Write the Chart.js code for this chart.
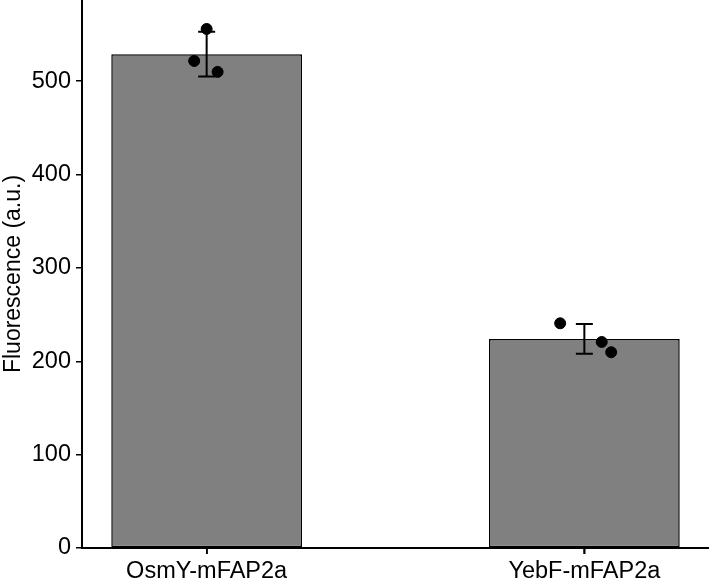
<!DOCTYPE html>
<html>
<head>
<meta charset="utf-8">
<script src="https://cdn.jsdelivr.net/npm/chart.js@4.4.1/dist/chart.umd.min.js"></script>
<style>
  html, body { margin: 0; padding: 0; background: #fff; }
  #wrap { width: 709px; height: 581px; }
</style>
</head>
<body>
<div id="wrap"><canvas id="chart" width="709" height="581"></canvas></div>
<script>
// ---- data ----
const groups = ['OsmY-mFAP2a', 'YebF-mFAP2a'];
const means = [529, 224];
const sds = [24, 16];
// replicate points (x jitter in category units, y values)
const osmyJitter = [-0.033, 0, 0.029];
const osmyValues = [521.7, 556, 510];
const yebfJitter = [-0.064, 0.046, 0.071];
const yebfValues = [240.7, 220.7, 209.7];
const yTicks = [0, 100, 200, 300, 400, 500];

const barData = groups.map((g, i) => ({ x: i + 1, y: means[i] }));
const pointData = [];
osmyValues.forEach((v, i) => pointData.push({ x: 1 + osmyJitter[i], y: v }));
yebfValues.forEach((v, i) => pointData.push({ x: 2 + yebfJitter[i], y: v }));

// error bars drawn through the chart's own scales
const errorBars = {
    id: 'errorBars',
    afterDatasetsDraw(chart){
        const ctx = chart.ctx;
        const xs = chart.scales.x, ys = chart.scales.y;
        ctx.save();
        ctx.strokeStyle = '#000';
        ctx.lineWidth = 2;
        for(let i = 0; i < means.length; i++){
            const x = xs.getPixelForValue(i + 1);
            const top = ys.getPixelForValue(means[i] + sds[i]);
            const bot = ys.getPixelForValue(means[i] - sds[i]);
            const cap = 8.5;
            ctx.beginPath();
            ctx.moveTo(x, top); ctx.lineTo(x, bot);
            ctx.moveTo(x - cap, top); ctx.lineTo(x + cap, top);
            ctx.moveTo(x - cap, bot); ctx.lineTo(x + cap, bot);
            ctx.stroke();
        }
        ctx.restore();
    },
    // small tick marks under the x axis at each group
    afterDraw(chart){
        const ctx = chart.ctx;
        const xs = chart.scales.x;
        const y0 = chart.chartArea.bottom;
        ctx.save();
        ctx.strokeStyle = '#000';
        ctx.lineWidth = 1.5;
        ctx.beginPath();
        groups.forEach((g, i) => {
            const x = Math.round(xs.getPixelForValue(i + 1));
            ctx.moveTo(x, y0);
            ctx.lineTo(x, y0 + 6);
        });
        ctx.stroke();
        ctx.restore();
    }
};

Chart.defaults.font.family = '"Liberation Sans", Arial, sans-serif';
Chart.defaults.color = '#000';

new Chart(document.getElementById('chart').getContext('2d'), {
    type: 'bar',
    data: {
        datasets: [{
            type: 'scatter',
            data: pointData,
            backgroundColor: '#000',
            borderColor: '#000',
            pointRadius: 5.5,
            order: 0
        }, {
            type: 'bar',
            data: barData,
            backgroundColor: '#808080',
            borderColor: '#000',
            borderWidth: 1.5,
            borderSkipped: false,
            categoryPercentage: 1,
            barPercentage: 0.505,
            order: 1
        }]
    },
    options: {
        responsive: false,
        animation: false,
        devicePixelRatio: 1,
        layout: { padding: 0, autoPadding: false },
        plugins: {
            legend: { display: false },
            tooltip: { enabled: false }
        },
        scales: {
            x: {
                type: 'linear',
                min: 0.67,
                max: 2.33,
                offset: false,
                afterFit(scale){
                    scale.height = 33;
                    scale.paddingLeft = 0;
                    scale.paddingRight = 0;
                },
                grid: { offset: false, drawOnChartArea: false, drawTicks: true, tickLength: 6, color: '#000', lineWidth: 1.5 },
                border: { display: true, color: '#000', width: 2 },
                ticks: {
                    stepSize: 1,
                    includeBounds: false,
                    padding: 3,
                    maxRotation: 0,
                    font: { size: 23.5 },
                    callback: (v) => groups[v - 1] || ''
                }
            },
            y: {
                min: 0,
                max: 587,
                afterFit(scale){
                    scale.width = 82;
                    scale.paddingTop = 0;
                    scale.paddingBottom = 0;
                },
                afterBuildTicks(scale){ scale.ticks = yTicks.map(v => ({ value: v })); },
                grid: { drawOnChartArea: false, tickLength: 6, color: '#000', lineWidth: 1.5 },
                border: { display: true, color: '#000', width: 2 },
                ticks: { padding: 5, font: { size: 23.5 } },
                title: {
                    display: true,
                    text: 'Fluorescence (a.u.)',
                    font: { size: 23, lineHeight: 1.2 },
                    padding: 0
                }
            }
        }
    },
    plugins: [errorBars]
});
</script>
</body>
</html>
